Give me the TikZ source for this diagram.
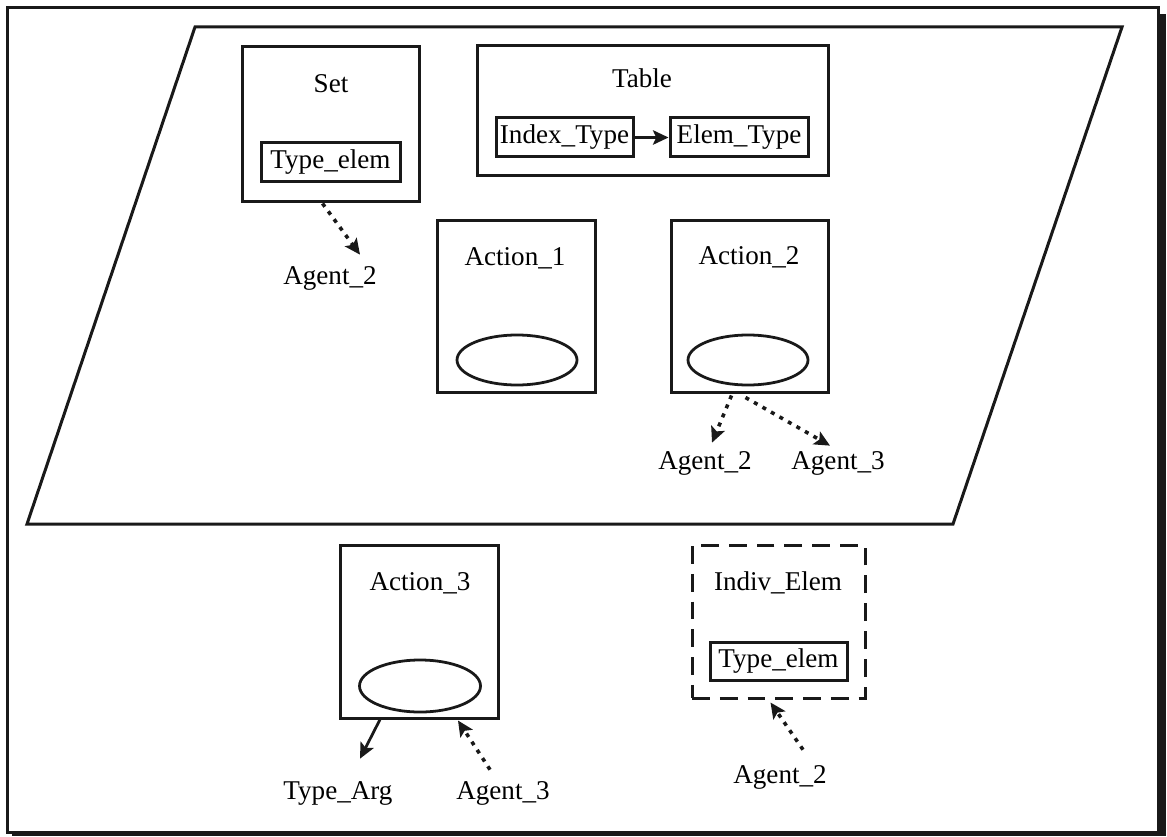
\documentclass[tikz,border=0pt]{standalone}
\usepackage{fontspec}
\setmainfont{Liberation Serif}
\usepackage{tikz}
\usetikzlibrary{shapes.geometric, arrows.meta, positioning, calc}
\definecolor{mydark}{RGB}{25,25,25}
\tikzset{
  frame/.style={rectangle, draw=mydark, line width=1.35pt, inner sep=0pt},
  dashframe/.style={frame, dash pattern=on 8pt off 4.5pt},
  wh/.style 2 args={minimum width=#1*0.45pt, minimum height=#2*0.45pt},
  title/.style={inner sep=0pt, font=\fontsize{12.2pt}{14pt}\selectfont},
  spot/.style={ellipse, draw=mydark, line width=1.25pt, inner sep=0pt},
  arrow/.style={-{Stealth[length=7pt,width=6.5pt,inset=1.5pt]}, line width=1.25pt, color=mydark},
  dotarrow/.style={arrow, dash pattern=on 1.8pt off 2.6pt, line width=1.6pt}
}
\begin{document}
\begin{tikzpicture}[x=0.45pt, y=-0.45pt]
  \useasboundingbox (0,0) rectangle (1167,836);
  % outer frame with shadow
  \draw[mydark, line width=1.35pt] (7,8) rectangle (1158,832);
  \fill[mydark] (1158,14) rectangle (1166,836);
  \fill[mydark] (12,831) rectangle (1166,836);

  % plane
  \coordinate (p1) at (195,27);
  \coordinate (p2) at (1122,27);
  \coordinate (p3) at (953,524);
  \coordinate (p4) at (27,524);
  \draw[mydark, line width=1.35pt] (p1) -- (p2) -- (p3) -- (p4) -- cycle;

  % Set
  \node[frame, wh={177}{155}] (set) at (330.5,124.5) {};
  \node[title] (settitle) at (331,84) {Set};
  \node[frame, wh={139}{39}, title] (setelem) at (330.5,162.5) {Type\_elem};
  \node[title] (agA) at (330,278) {Agent\_2};

  % Table
  \node[frame, wh={351}{130}] (table) at (652.5,111) {};
  \node[title] (tabletitle) at (642,78) {Table};
  \node[frame, wh={137}{39}, title] (idx) at (564.5,137.5) {Index\_Type};
  \node[frame, wh={138}{39}, title] (elm) at (739,137.5) {Elem\_Type};

  % Action_1
  \node[frame, wh={158}{172}] (act1) at (516,306) {};
  \node[title] (act1title) at (515,258) {Action\_1};
  \node[spot, wh={120}{50}] (spot1) at (517,360) {};

  % Action_2
  \node[frame, wh={157}{172}] (act2) at (749.5,306) {};
  \node[title] (act2title) at (749,257) {Action\_2};
  \node[spot, wh={120}{50}] (spot2) at (748,360) {};
  \node[title] (agB) at (705,463) {Agent\_2};
  \node[title] (agC) at (838,463) {Agent\_3};

  % Action_3
  \node[frame, wh={158}{173}] (act3) at (419,631.5) {};
  \node[title] (act3title) at (420,583) {Action\_3};
  \node[spot, wh={121}{52}] (spot3) at (420,686) {};
  \node[title] (targ) at (338,793) {Type\_Arg};
  \node[title] (agD) at (503,793) {Agent\_3};

  % Indiv_Elem
  \node[dashframe, wh={173}{153}] (indiv) at (778.5,621.5) {};
  \node[title] (indivtitle) at (778,583) {Indiv\_Elem};
  \node[frame, wh={137}{38}, title] (indelem) at (778.5,661) {Type\_elem};
  \node[title] (agE) at (780,777) {Agent\_2};

  % Edges
  \draw[arrow] (idx) -- (elm);
  \draw[dotarrow] ($(set.south)+(-8,0)$) -- ($(agA.north)+(30,-11)$);
  \draw[dotarrow] ($(act2.south)+(-18,2)$) -- ($(agB.north)+(7,-8)$);
  \draw[dotarrow] ($(act2.south)+(-4,4)$) -- ($(agC.north)+(-8,-5)$);
  \draw[arrow] ($(act3.south)+(-39,0)$) -- ($(targ.north)+(22,-22)$);
  \draw[dotarrow] ($(agD.north)+(-13,-11)$) -- ($(act3.south)+(39,1)$);
  \draw[dotarrow] ($(agE.north)+(23,-15)$) -- ($(indiv.south)+(-8,3)$);
\end{tikzpicture}
\end{document}
